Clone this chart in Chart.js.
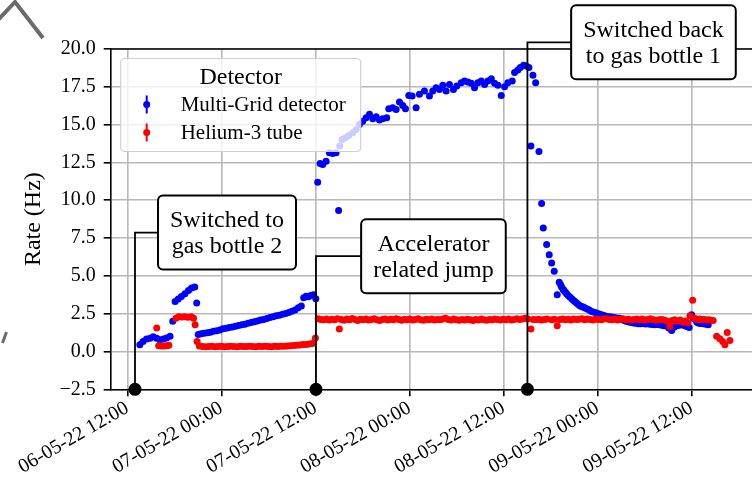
<!DOCTYPE html>
<html>
<head>
<meta charset="utf-8">
<script src="https://cdn.jsdelivr.net/npm/chart.js@4.4.1/dist/chart.umd.min.js"></script>
<style>
html, body { margin: 0; padding: 0; background: #fff; overflow: hidden; }
#wrap { width: 752px; height: 487px; overflow: hidden; position: relative; }
#wrap canvas { position: absolute; left: 0; top: 0; }
</style>
</head>
<body>
<div id="wrap"><canvas id="rateChart" width="770" height="487"></canvas></div>
<script>
// hours counted from 06-05-22 00:00
const tickHours = [12, 24, 36, 48, 60, 72, 84];
const tickLabels = ['06-05-22 12:00', '07-05-22 00:00', '07-05-22 12:00', '08-05-22 00:00',
                    '08-05-22 12:00', '09-05-22 00:00', '09-05-22 12:00'];
const yTicks = [-2.5, 0, 2.5, 5, 7.5, 10, 12.5, 15, 17.5, 20];

// Multi-Grid detector
const mgHours = [
  13.6, 14.0, 14.45, 14.9, 15.3, 15.75, 16.15, 16.6, 17.0, 17.45, 17.8, 18.1, 18.5, 18.9, 19.35, 19.8, 20.2, 20.6, 20.85,
  21.05, 21.4, 21.8, 22.2, 22.6, 23.0, 23.4, 23.8, 24.2, 24.6, 25.0, 25.4, 25.8, 26.2, 26.6, 27.0, 27.4, 27.8, 28.2, 28.6,
  29.0, 29.4, 29.8, 30.2, 30.6, 31.0, 31.4, 31.8, 32.2, 32.6, 33.0, 33.4, 33.8, 34.2, 34.5, 34.8, 35.1, 35.4, 35.75, 36.05,
  36.29, 36.6, 36.93, 37.36, 37.78, 38.2, 38.63, 38.96, 39.1, 39.4, 39.83, 40.25, 40.76, 41.2, 41.62, 42.04, 42.47, 42.9,
  43.32, 43.75, 44.17, 44.59, 45.1, 45.36, 45.87, 46.3, 46.72, 47.14, 47.49, 47.91, 48.34, 48.85, 49.27, 49.91, 50.55,
  50.97, 51.4, 51.83, 52.25, 52.68, 53.1, 53.61, 54.04, 54.6, 55.02, 55.44, 55.88, 56.3, 56.72, 57.16, 57.58, 58.0, 58.44,
  58.86, 59.28, 59.71, 60.13, 60.55, 61.11, 61.41, 61.83, 62.14, 62.56, 62.9, 63.24, 63.5, 63.75, 64.1, 64.52, 64.86,
  65.07, 65.5, 65.83, 66.14, 66.47, 66.85, 67.11, 67.3, 67.41, 67.6, 67.71, 67.9, 68.05, 68.25, 68.47, 68.7, 68.9, 69.1,
  69.33, 69.55, 69.75, 69.95, 70.17, 70.4, 70.68, 70.95, 71.24, 71.55, 71.88, 72.2, 72.52, 72.85, 73.16, 73.5, 73.8,
  74.1, 74.45, 74.8, 75.1, 75.4, 75.71, 76.0, 76.3, 76.6, 76.9, 77.2, 77.5, 77.8, 78.1, 78.4, 78.7, 79.0, 79.3, 79.6,
  79.9, 80.2, 80.5, 80.8, 81.1, 81.45, 81.75, 82.09, 82.4, 82.72, 83.05, 83.36, 83.69, 84.0, 84.2, 84.42, 84.65, 84.84,
  85.1, 85.48, 85.8, 86.12
];
const mgRate = [
  0.45, 0.66, 0.82, 0.88, 0.98, 0.88, 0.77, 0.82, 0.9, 1.0, 2.0, 3.3, 3.47, 3.64, 3.82, 4.04, 4.2, 4.26, 3.2,
  1.12, 1.18, 1.2, 1.24, 1.28, 1.33, 1.37, 1.42, 1.5, 1.53, 1.58, 1.62, 1.67, 1.72, 1.77, 1.8, 1.86, 1.92, 1.96, 2.02,
  2.08, 2.12, 2.18, 2.25, 2.3, 2.36, 2.4, 2.46, 2.52, 2.58, 2.66, 2.75, 2.9, 3.0, 3.55, 3.65, 3.62, 3.7, 3.75, 3.49,
  11.19, 12.43, 12.36, 12.58, 13.14, 13.09, 13.14, 9.32, 13.58, 14.02, 14.13, 14.28, 14.46, 14.68, 15.01, 15.23, 15.46, 15.68,
  15.39, 15.52, 15.3, 15.39, 15.46, 16.05, 16.12, 16.0, 16.49, 16.27, 16.05, 16.93, 16.89, 16.12, 17.0, 17.22, 16.89,
  17.22, 17.44, 17.33, 17.6, 17.22, 17.66, 17.33, 17.55, 17.77, 17.88, 17.81, 17.73, 17.44, 17.77, 17.88, 17.66, 17.88, 18.04,
  17.73, 17.6, 16.93, 17.51, 17.77, 17.88, 18.44, 18.61, 18.77, 18.92, 18.87, 18.77, 13.58, 18.26, 17.77, 13.22, 9.78,
  8.17, 7.07, 6.4, 5.85, 5.3, 3.75, 4.57, 4.4, 4.26, 4.12, 4.04, 3.92, 3.82, 3.7, 3.6, 3.48, 3.38, 3.3,
  3.2, 3.1, 3.03, 2.98, 2.94, 2.88, 2.81, 2.74, 2.65, 2.6, 2.54, 2.48, 2.43, 2.38, 2.32, 2.3, 2.28,
  2.25, 2.22, 2.19, 2.12, 2.05, 1.99, 1.95, 1.92, 1.88, 1.86, 1.84, 1.83, 1.85, 1.82, 1.83, 1.8, 1.78, 1.77, 1.79,
  1.76, 1.74, 1.7, 1.68, 1.55, 1.39, 1.6, 1.7, 1.74, 1.77, 1.72, 1.66, 1.59, 2.43, 2.2, 2.14, 1.95, 1.88,
  1.85, 1.83, 1.8, 1.77
];

// Helium-3 tube
const heHours = [
  15.75, 16.0, 16.35, 16.7, 17.05, 17.3, 18.2, 18.55, 18.95, 19.35, 19.75, 20.15, 20.45, 20.65, 20.9,
  21.2, 21.6, 22.0, 22.4, 22.8, 23.2, 23.6, 24.0, 24.4, 24.8, 25.2, 25.6, 26.0, 26.4, 26.8, 27.2, 27.6, 28.0, 28.4,
  28.8, 29.2, 29.6, 30.0, 30.4, 30.8, 31.2, 31.6, 32.0, 32.4, 32.8, 33.2, 33.6, 34.0, 34.4, 34.8, 35.2, 35.6, 36.0,
  36.35, 36.7, 37.05, 37.4, 37.75, 38.1, 38.45, 38.8, 39.05, 39.3, 39.65, 40.0, 40.35, 40.7, 41.05, 41.4, 41.75, 42.1,
  42.45, 42.8, 43.15, 43.5, 43.85, 44.2, 44.55, 44.9, 45.25, 45.6, 45.95, 46.3, 46.65, 47.0, 47.35, 47.7, 48.05, 48.4,
  48.75, 49.1, 49.45, 49.8, 50.15, 50.5, 50.85, 51.2, 51.55, 51.9, 52.25, 52.6, 52.95, 53.3, 53.65, 54.0, 54.35, 54.7,
  55.05, 55.4, 55.75, 56.1, 56.45, 56.8, 57.15, 57.5, 57.85, 58.2, 58.55, 58.9, 59.25, 59.6, 59.95, 60.3, 60.65, 61.0,
  61.35, 61.7, 62.05, 62.4, 62.75, 63.1, 63.5, 63.8, 64.15, 64.5, 64.85, 65.2, 65.55, 66.85, 66.15, 66.5, 67.2, 67.55,
  67.9, 68.25, 68.6, 68.95, 69.3, 69.65, 70.0, 70.35, 70.7, 71.05, 71.4, 71.75, 72.1, 72.45, 72.8, 73.15, 73.5, 73.85,
  74.2, 74.55, 74.9, 75.25, 75.6, 75.95, 76.3, 76.65, 77.0, 77.35, 77.7, 78.05, 78.4, 78.75, 79.1, 79.45, 79.8, 80.15,
  80.5, 80.85, 81.23, 81.5, 81.85, 82.2, 82.55, 82.9, 83.25, 83.5, 83.78, 84.13, 84.4, 84.7, 85.0, 85.3, 85.6, 85.9,
  86.2, 86.5, 86.75, 87.19, 87.6, 87.96, 88.25, 88.54, 88.88
];
const heRate = [
  1.55, 0.38, 0.36, 0.37, 0.38, 0.42, 2.2, 2.3, 2.28, 2.3, 2.26, 2.3, 2.2, 1.77, 0.66,
  0.36, 0.33, 0.32, 0.33, 0.34, 0.32, 0.33, 0.34, 0.32, 0.33, 0.34, 0.33, 0.32, 0.34, 0.33, 0.33, 0.35, 0.33, 0.32,
  0.34, 0.33, 0.34, 0.33, 0.32, 0.34, 0.33, 0.35, 0.34, 0.36, 0.38, 0.4, 0.42, 0.43, 0.46, 0.47, 0.5, 0.52, 0.89,
  2.16, 2.12, 2.1, 2.15, 2.08, 2.13, 2.1, 2.17, 1.48, 2.12, 2.06, 2.14, 2.1, 2.18, 2.12, 2.05, 2.13, 2.1,
  2.15, 2.08, 2.12, 2.16, 2.1, 2.05, 2.12, 2.14, 2.08, 2.13, 2.1, 2.16, 2.11, 2.06, 2.13, 2.1, 2.15, 2.09,
  2.12, 2.17, 2.1, 2.07, 2.13, 2.1, 2.14, 2.08, 2.12, 2.1, 2.15, 2.2, 2.12, 2.09, 2.14, 2.1, 2.06, 2.12,
  2.08, 2.13, 2.1, 2.05, 2.12, 2.09, 2.14, 2.1, 2.07, 2.12, 2.1, 2.15, 2.11, 2.08, 2.13, 2.1, 2.14, 2.09,
  2.12, 2.16, 2.11, 2.14, 2.2, 2.15, 1.48, 2.12, 2.1, 2.13, 2.09, 2.12, 2.15, 1.7, 2.1, 2.13, 2.12, 2.15,
  2.1, 2.13, 2.09, 2.14, 2.11, 2.13, 2.16, 2.1, 2.14, 2.12, 2.09, 2.15, 2.12, 2.1, 2.14, 2.17, 2.12, 2.1,
  2.14, 2.09, 2.13, 2.16, 2.1, 2.13, 2.08, 2.12, 2.15, 2.1, 2.14, 2.09, 2.12, 2.16, 2.1, 2.07, 2.1, 2.12,
  2.08, 2.02, 1.66, 2.05, 2.1, 2.0, 2.08, 1.95, 2.02, 1.9, 2.36, 3.38, 2.2, 2.12, 2.15, 2.1, 2.12, 2.08,
  2.1, 2.06, 2.05, 1.0, 0.85, 0.66, 0.44, 1.26, 0.73
];

const annHours = [12.98, 36.07, 63.05];
const annText = [['Switched to', 'gas bottle 2'], ['Accelerator', 'related jump'], ['Switched back', 'to gas bottle 1']];
// text box centres, in data units
const annBoxHours = [24.72, 51.06, 79.13];
const annBoxRate = [7.86, 6.3, 20.44];

const FONT = "'Liberation Serif', 'Times New Roman', serif";

function pts(xs, ys) {
  return xs.map((x, i) => ({ x: x, y: ys[i] }));
}

const decoPlugin = {
  id: 'deco',
  afterDatasetsDraw(chart) {
    const ctx = chart.ctx;
    const a = chart.chartArea;
    const xs = chart.scales.x, ys = chart.scales.y;
    ctx.save();
    // top spine
    ctx.strokeStyle = '#000';
    ctx.lineWidth = 1.6;
    ctx.beginPath();
    ctx.moveTo(a.left, a.top);
    ctx.lineTo(a.right, a.top);
    ctx.stroke();

    // legend
    const lx = a.left + 10, ly = a.top + 9.5, lw = 240, lh = 93;
    ctx.fillStyle = 'rgba(255,255,255,0.8)';
    ctx.strokeStyle = '#d0d0d0';
    ctx.lineWidth = 1.2;
    ctx.beginPath();
    ctx.roundRect(lx, ly, lw, lh, 4);
    ctx.fill();
    ctx.stroke();
    ctx.fillStyle = '#000';
    ctx.textAlign = 'center';
    ctx.textBaseline = 'middle';
    ctx.font = '24px ' + FONT;
    ctx.fillText('Detector', lx + lw / 2, ly + 19);
    const entries = [chart.data.datasets[1], chart.data.datasets[0]];
    entries.forEach((ds, i) => {
      const cy = ly + 46 + i * 28;
      const mx = lx + 26;
      ctx.strokeStyle = ds.backgroundColor;
      ctx.fillStyle = ds.backgroundColor;
      ctx.lineWidth = 2;
      ctx.beginPath();
      ctx.moveTo(mx, cy - 9);
      ctx.lineTo(mx, cy + 9);
      ctx.stroke();
      ctx.beginPath();
      ctx.arc(mx, cy, 3.5, 0, Math.PI * 2);
      ctx.fill();
      ctx.fillStyle = '#000';
      ctx.textAlign = 'left';
      ctx.font = '21px ' + FONT;
      ctx.fillText(ds.label, lx + 60, cy + 1);
    });

    // annotations
    ctx.font = '24px ' + FONT;
    annHours.forEach((h, i) => {
      const px = xs.getPixelForValue(h);
      const py = ys.getPixelForValue(ys.min);
      const bx = xs.getPixelForValue(annBoxHours[i]);
      const by = ys.getPixelForValue(annBoxRate[i]);
      const lines = annText[i];
      const tw = Math.max(...lines.map(t => ctx.measureText(t).width));
      const lineH = 26;
      const bw = tw + 24, bh = lines.length * lineH + 22;
      ctx.strokeStyle = '#000';
      ctx.lineWidth = 1.8;
      ctx.beginPath();
      ctx.moveTo(px, py);
      ctx.lineTo(px, by);
      ctx.lineTo(bx - bw / 2, by);
      ctx.stroke();
      ctx.fillStyle = '#fff';
      ctx.lineWidth = 2;
      ctx.beginPath();
      ctx.roundRect(bx - bw / 2, by - bh / 2, bw, bh, 5);
      ctx.fill();
      ctx.stroke();
      ctx.fillStyle = '#000';
      ctx.textAlign = 'center';
      ctx.textBaseline = 'middle';
      lines.forEach((t, k) => {
        ctx.fillText(t, bx, by + (k - (lines.length - 1) / 2) * lineH + 1);
      });
      ctx.beginPath();
      ctx.arc(px, py, 6.5, 0, Math.PI * 2);
      ctx.fill();
    });

    // bits of a neighbouring figure cut off at the left edge
    ctx.strokeStyle = '#6a6a6a';
    ctx.lineWidth = 4;
    ctx.beginPath();
    ctx.moveTo(-2, 20);
    ctx.lineTo(15, 2);
    ctx.lineTo(43, 38);
    ctx.stroke();
    ctx.lineWidth = 3;
    ctx.beginPath();
    ctx.moveTo(6.5, 332);
    ctx.lineTo(2.5, 343);
    ctx.stroke();
    ctx.restore();
  }
};

new Chart(document.getElementById('rateChart'), {
  type: 'scatter',
  data: {
    datasets: [
      {
        label: 'Helium-3 tube',
        data: pts(heHours, heRate),
        backgroundColor: '#ff0000',
        borderColor: '#ff0000',
        borderWidth: 0,
        pointRadius: 3.5,
        order: 0
      },
      {
        label: 'Multi-Grid detector',
        data: pts(mgHours, mgRate),
        backgroundColor: '#0000ff',
        borderColor: '#0000ff',
        borderWidth: 0,
        pointRadius: 3.5,
        order: 1
      }
    ]
  },
  options: {
    animation: false,
    responsive: false,
    layout: { padding: { left: 0, top: 49, right: 0, bottom: 0 }, autoPadding: false },
    plugins: {
      legend: { display: false },
      tooltip: { enabled: false }
    },
    scales: {
      x: {
        type: 'linear',
        min: 9.88,
        max: 94,
        afterBuildTicks: s => { s.ticks = tickHours.map(v => ({ value: v })); },
        afterFit: s => { s.height = 97.7; },
        ticks: {
          autoSkip: false,
          minRotation: 30,
          maxRotation: 30,
          padding: 0,
          color: '#000',
          font: { family: FONT, size: 20 },
          callback: v => tickLabels[tickHours.indexOf(v)]
        },
        grid: { color: '#b8b8b8', lineWidth: 1.6, tickColor: '#000', tickLength: 7 },
        border: { color: '#000', width: 1.6 }
      },
      y: {
        min: -2.5,
        max: 20,
        afterBuildTicks: s => { s.ticks = yTicks.map(v => ({ value: v })); },
        afterFit: s => { s.width = 110.7; },
        ticks: {
          padding: 8,
          color: '#000',
          font: { family: FONT, size: 20 },
          callback: v => (v < 0 ? '\u2212' : '') + Math.abs(v).toFixed(1)
        },
        grid: { color: '#b8b8b8', lineWidth: 1.6, tickColor: '#000', tickLength: 7 },
        border: { color: '#000', width: 1.6 },
        title: {
          display: true,
          text: 'Rate (Hz)',
          color: '#000',
          font: { family: FONT, size: 24 },
          padding: { top: 19, bottom: 0 }
        }
      }
    }
  },
  plugins: [decoPlugin]
});
</script>
</body>
</html>
